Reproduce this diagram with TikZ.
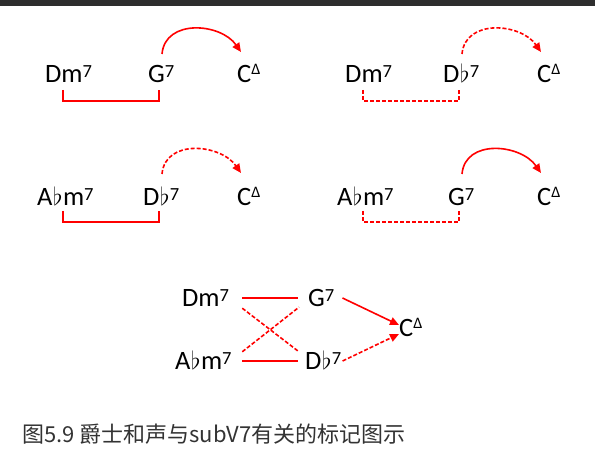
\documentclass[tikz,border=0pt]{standalone}
\usepackage{fontspec}
\setmainfont{Carlito}
\newfontfamily\cjk{Noto Sans CJK SC}
\usetikzlibrary{arrows.meta}

% chord symbols
\newcommand{\sev}{\raisebox{5pt}{\fontsize{18.5}{18}\selectfont 7}}
\newcommand{\tri}{\raisebox{8pt}{\fontsize{16}{16}\selectfont Δ}}
\newcommand{\fl}{\kern0.5pt$\flat$\kern0.5pt}

\begin{document}
\begin{tikzpicture}[x=1pt, y=-1pt,
    chord/.style={font=\fontsize{26.5}{30}\selectfont, inner sep=0pt,
      text height=18pt, text depth=0pt, anchor=base west},
    pair/.style={red, line width=1.6pt},
    subpair/.style={pair, dash pattern=on 4pt off 2pt},
    res/.style={pair, -{Triangle[length=9pt,width=8pt]}},
    subres/.style={res, dash pattern=on 4pt off 2pt}]
    \useasboundingbox (0,0) rectangle (595,465);

    % Top bar
    \fill[black!82] (0,0) rectangle (595,6);

    % ii-V-I
    \node[chord] (dm1) at (45,83) {Dm\sev};
    \node[chord] (g1) at (148,83) {G\sev};
    \node[chord] (c1) at (237,83) {C\tri};
    \draw[pair] ([xshift=18pt,yshift=-7pt]dm1.base west) -- ++(0,11)
        -| ([xshift=11pt,yshift=-7pt]g1.base west);
    \draw[res] ([xshift=14pt,yshift=29pt]g1.base west)
        to[out=85, in=125, looseness=1.15] ([xshift=4pt,yshift=31pt]c1.base west);

    % ii-subV-I
    \node[chord] (dm2) at (345,83) {Dm\sev};
    \node[chord] (db2) at (443,83) {D\fl\sev};
    \node[chord] (c2) at (537,83) {C\tri};
    \draw[subpair] ([xshift=18pt,yshift=-7pt]dm2.base west) -- ++(0,11)
        -| ([xshift=16pt,yshift=-7pt]db2.base west);
    \draw[subres] ([xshift=19pt,yshift=29pt]db2.base west)
        to[out=85, in=125, looseness=1.15] ([xshift=4pt,yshift=31pt]c2.base west);

    % related ii of subV
    \node[chord] (abm3) at (37,206) {A\fl m\sev};
    \node[chord] (db3) at (143,206) {D\fl\sev};
    \node[chord] (c3) at (237,206) {C\tri};
    \draw[pair] ([xshift=26pt,yshift=-5pt]abm3.base west) -- ++(0,11)
        -| ([xshift=16pt,yshift=-5pt]db3.base west);
    \draw[subres] ([xshift=19pt,yshift=32pt]db3.base west)
        to[out=85, in=125, looseness=1.15] ([xshift=4pt,yshift=33pt]c3.base west);

    \node[chord] (abm4) at (337,206) {A\fl m\sev};
    \node[chord] (g4) at (448,206) {G\sev};
    \node[chord] (c4) at (537,206) {C\tri};
    \draw[subpair] ([xshift=26pt,yshift=-5pt]abm4.base west) -- ++(0,11)
        -| ([xshift=11pt,yshift=-5pt]g4.base west);
    \draw[res] ([xshift=14pt,yshift=32pt]g4.base west)
        to[out=85, in=125, looseness=1.15] ([xshift=4pt,yshift=33pt]c4.base west);

    % All four together
    \node[chord] (dm5) at (182,307) {Dm\sev};
    \node[chord] (g5) at (308,307) {G\sev};
    \node[chord] (c5) at (399,337) {C\tri};
    \node[chord] (abm5) at (175,370) {A\fl m\sev};
    \node[chord] (db5) at (305,370) {D\fl\sev};
    \draw[pair] ([xshift=13pt]dm5.east) -- ([xshift=-10pt]g5.west);
    \draw[pair] ([xshift=13pt]dm5.east |- abm5.east) -- ([xshift=-10pt]g5.west |- db5.west);
    \draw[subpair] ([xshift=13pt,yshift=-1pt]dm5.south east) -- ([xshift=-6pt]db5.north west);
    \draw[subpair] ([xshift=13pt]dm5.east |- abm5.north) -- ([xshift=-9pt]g5.south west);
    \draw[res] ([xshift=8pt]g5.east) -- ([yshift=3pt]c5.west);
    \draw[subres] ([xshift=1pt]db5.east) -- ([yshift=-6pt]c5.west);

    % Caption
    \node[anchor=base west, inner sep=0pt, text=black!80,
      font=\cjk\fontsize{22}{26}\selectfont] (cap) at (22,442)
      {图5.9 爵士和声与subV7有关的标记图示};
\end{tikzpicture}
\end{document}
